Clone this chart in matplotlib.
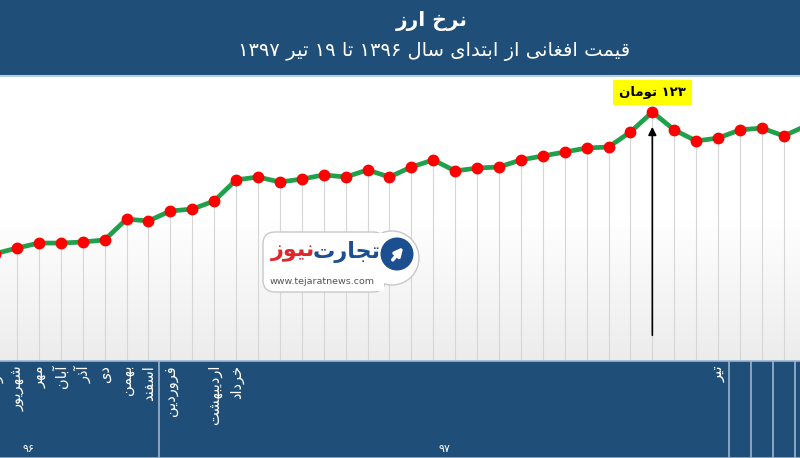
import re
import numpy as np
import matplotlib
matplotlib.use("Agg")
import matplotlib.pyplot as plt
from matplotlib.colors import LinearSegmentedColormap
from matplotlib.patches import FancyBboxPatch, Circle, Rectangle

plt.rcParams["font.family"] = ["DejaVu Sans"]

# afghani price (toman), one point per category
prices = [55.0, 57.7, 60.1, 60.1, 60.6, 61.6, 71.6, 70.7, 75.5, 76.4,
          80.3, 90.4, 91.8, 89.4, 90.8, 92.8, 91.8, 95.2, 91.8, 96.6,
          100.0, 94.7, 96.1, 96.6, 100.0, 101.9, 103.8, 105.7, 106.2, 113.4,
          123.0, 114.4, 109.1, 110.5, 114.4, 115.3, 111.5, 116.3]
month_labels = {0: "مرداد", 1: "شهریور", 2: "مهر", 3: "آبان", 4: "آذر",
                5: "دی", 6: "بهمن", 7: "اسفند", 8: "فروردین",
                10: "اردیبهشت", 11: "خرداد", 33: "تیر"}
group_bounds = [7.5, 33.5, 34.5, 35.5, 36.5]
year_labels = [("۹۶", 1.5), ("۹۷", 20.5)]
peak_idx = 30
peak_text = "۱۲۳ تومان"
title = "نرخ ارز"
subtitle = "قیمت افغانی از ابتدای سال ۱۳۹۶ تا ۱۹ تیر ۱۳۹۷"

# --- minimal persian shaping (matplotlib has no bidi/shaping) ---
FORMS = {
    "ا": ("\uFE8D", "\uFE8E"), "آ": ("\uFE81", "\uFE82"),
    "د": ("\uFEA9", "\uFEAA"), "ذ": ("\uFEAB", "\uFEAC"),
    "ر": ("\uFEAD", "\uFEAE"), "ز": ("\uFEAF", "\uFEB0"),
    "و": ("\uFEED", "\uFEEE"),
    "ب": ("\uFE8F", "\uFE90", "\uFE91", "\uFE92"),
    "ت": ("\uFE95", "\uFE96", "\uFE97", "\uFE98"),
    "ج": ("\uFE9D", "\uFE9E", "\uFE9F", "\uFEA0"),
    "خ": ("\uFEA5", "\uFEA6", "\uFEA7", "\uFEA8"),
    "س": ("\uFEB1", "\uFEB2", "\uFEB3", "\uFEB4"),
    "ش": ("\uFEB5", "\uFEB6", "\uFEB7", "\uFEB8"),
    "غ": ("\uFECD", "\uFECE", "\uFECF", "\uFED0"),
    "ف": ("\uFED1", "\uFED2", "\uFED3", "\uFED4"),
    "ق": ("\uFED5", "\uFED6", "\uFED7", "\uFED8"),
    "ل": ("\uFEDD", "\uFEDE", "\uFEDF", "\uFEE0"),
    "م": ("\uFEE1", "\uFEE2", "\uFEE3", "\uFEE4"),
    "ن": ("\uFEE5", "\uFEE6", "\uFEE7", "\uFEE8"),
    "ه": ("\uFEE9", "\uFEEA", "\uFEEB", "\uFEEC"),
    "ی": ("\uFBFC", "\uFBFD", "\uFBFE", "\uFBFF"),
}
RIGHT_ONLY = set("اآدذرزو")


def fa(s):
    out = []
    for i, c in enumerate(s):
        if c not in FORMS:
            out.append(c)
            continue
        prev = s[i - 1] if i > 0 else ""
        nxt = s[i + 1] if i + 1 < len(s) else ""
        jp = prev in FORMS and prev not in RIGHT_ONLY
        jn = c not in RIGHT_ONLY and nxt in FORMS
        f = FORMS[c]
        if jp and jn:
            out.append(f[3])
        elif jp:
            out.append(f[1])
        elif jn:
            out.append(f[2])
        else:
            out.append(f[0])
    vis = "".join(out)[::-1]
    return re.sub("[۰-۹0-9]+", lambda m: m.group(0)[::-1], vis)


navy = "#1f4e79"
x = np.arange(len(prices))
y0, y1 = 3.5, 139.8
xl = (0.224, 36.74)

fig = plt.figure(figsize=(8, 4.58), dpi=100)
fig.patch.set_facecolor("white")

ax = fig.add_axes([0, 0.2118, 1, 0.6201])
ax.set_xlim(*xl)
ax.set_ylim(y0, y1)
cmap = LinearSegmentedColormap.from_list("bg", ["#ffffff", "#ffffff", "#ececec"])
ax.imshow(np.linspace(0, 1, 256).reshape(-1, 1), cmap=cmap, aspect="auto",
          extent=[xl[0], xl[1], y0, y1], zorder=0)
ax.vlines(x, y0, prices, color="#d6d6d6", lw=0.8, zorder=1)
ax.plot(x, prices, color="#1fa04b", lw=3.4, zorder=2)
ax.plot(x, prices, "o", color="#ff0000", ms=7.5, zorder=3)
ax.annotate("", xy=(peak_idx, 117.2), xytext=(peak_idx, 14.5),
            arrowprops=dict(arrowstyle="-|>", color="black", lw=1.2,
                            mutation_scale=12), zorder=4)
ax.text(peak_idx, 132.5, fa(peak_text), ha="center", va="center", fontsize=9.5,
        fontweight="bold",
        bbox=dict(boxstyle="square,pad=0.45", fc="#ffff00", ec="none"), zorder=5)
ax.axis("off")

# bottom category band
axb = fig.add_axes([0, 0, 1, 0.2118], sharex=ax)
axb.set_facecolor(navy)
axb.set_ylim(0, 1)
for b in group_bounds:
    axb.axvline(b, color="#9db5cf", lw=1.2)
for i, lab in month_labels.items():
    axb.text(i, 0.96, fa(lab), rotation=90, ha="center", va="top",
             color="white", fontsize=10.5)
for lab, pos in year_labels:
    axb.text(pos, 0.04, fa(lab), ha="center", va="bottom", color="white",
             fontsize=8)
axb.set_xticks([])
axb.set_yticks([])
for s in ["left", "right"]:
    axb.spines[s].set_visible(False)
for s in ["top", "bottom"]:
    axb.spines[s].set_color("#9db5cf")
    axb.spines[s].set_linewidth(1.2)

# header
fig.patches.append(Rectangle((0, 0.834), 1, 0.166, transform=fig.transFigure,
                             fc=navy, ec="none", zorder=0))
fig.lines.append(plt.Line2D([0, 1], [0.834, 0.834], transform=fig.transFigure,
                            color="#b8cde0", lw=1.5))
fig.text(0.54, 0.955, fa(title), ha="center", va="center", color="white",
         fontsize=14.5, fontweight="bold")
fig.text(0.542, 0.887, fa(subtitle), ha="center", va="center", color="white",
         fontsize=14)

# watermark logo
axl = fig.add_axes([262 / 800, (458 - 300) / 458, 162 / 800, 72 / 458])
axl.set_xlim(0, 162)
axl.set_ylim(0, 72)
axl.axis("off")
axl.add_patch(FancyBboxPatch((1, 8), 122, 60, boxstyle="round,pad=0,rounding_size=12",
                             fc="white", ec="#c8c8c8", lw=1))
axl.add_patch(Circle((130, 42), 27, fc="white", ec="#c8c8c8", lw=1))
axl.add_patch(FancyBboxPatch((100, 9), 22, 58, boxstyle="square,pad=0",
                             fc="white", ec="none"))
axl.add_patch(Circle((135, 46), 16.5, fc="#1c4f8f", ec="none"))
axl.annotate("", xy=(143, 55), xytext=(129, 38),
             arrowprops=dict(arrowstyle="-|>", color="white", lw=2.5, mutation_scale=12))
axl.text(85, 48, fa("تجارت"), ha="center", va="center", color="#1c4f8f",
         fontsize=16, fontweight="bold")
axl.text(31, 48, fa("نیوز"), ha="center", va="center", color="#e0252b",
         fontsize=16, fontweight="bold")
axl.text(60, 19, "www.tejaratnews.com", ha="center", va="center",
         color="#555555", fontsize=6.8)

fig.savefig("out.png", dpi=100)
